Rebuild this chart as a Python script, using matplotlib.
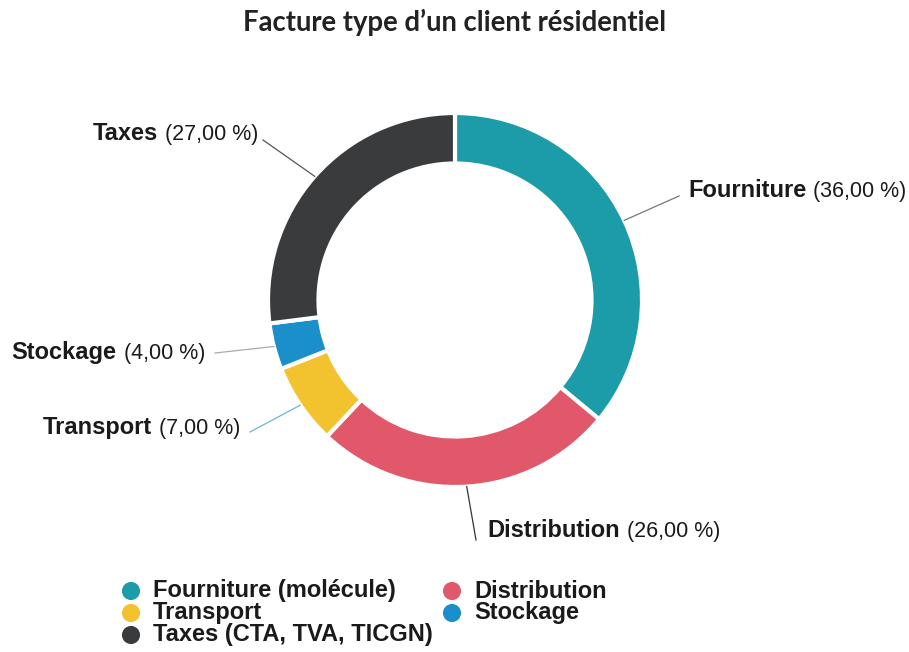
import matplotlib
matplotlib.use('Agg')
import matplotlib.pyplot as plt
import numpy as np

# Facture type d'un client résidentiel - parts of the bill
categories = ['Fourniture', 'Distribution', 'Transport', 'Stockage', 'Taxes']
shares = [36.0, 26.0, 7.0, 4.0, 27.0]
legend_labels = ['Fourniture (molécule)', 'Distribution', 'Transport',
                 'Stockage', 'Taxes (CTA, TVA, TICGN)']
colors = ['#1C9BA8', '#E2586B', '#F3C22F', '#1A8FC9', '#3A3B3D']
line_colors = ['#777777', '#333333', '#6CB6D6', '#AAAAAA', '#555555']

W, H = 909, 652
fig = plt.figure(figsize=(W / 100, H / 100), dpi=100)
ax = fig.add_axes([0, 0, 1, 1])

cx, cy, R = 455, H - 300, 187
ring = 0.27

wedges, _ = ax.pie(shares, colors=colors, startangle=90, counterclock=False,
                   radius=R, center=(cx, cy), frame=True,
                   wedgeprops=dict(width=R * ring, edgecolor='white', linewidth=3))
ax.set_xlim(0, W)
ax.set_ylim(0, H)
ax.axis('off')

ax.text(cx, H - 31, 'Facture type d\u2019un client résidentiel', ha='center',
        va='baseline', fontsize=19.8, fontweight='bold', family='Lato',
        color='#222222')

font = 'Liberation Sans'
fs = 17

# label anchors: (x, baseline y, alignment), connector end point
label_pos = {
    'Fourniture': ((688, H - 197, 'left'), (679, H - 196)),
    'Distribution': ((487, H - 537, 'left'), (476, H - 540)),
    'Transport': ((240, H - 434, 'right'), (250, H - 432)),
    'Stockage': ((205, H - 359, 'right'), (215, H - 353)),
    'Taxes': ((258, H - 140, 'right'), (263, H - 140)),
}

fig.canvas.draw()
renderer = fig.canvas.get_renderer()

for w, name, val, lc in zip(wedges, categories, shares, line_colors):
    mid = np.deg2rad((w.theta1 + w.theta2) / 2)
    x0, y0 = cx + R * np.cos(mid), cy + R * np.sin(mid)
    (tx, ty, ha), (ex, ey) = label_pos[name]
    ax.plot([x0, ex], [y0, ey], color=lc, lw=0.9)
    pct = '(' + f'{val:.2f}'.replace('.', ',') + ' %)'
    t1 = ax.text(0, ty, name, fontsize=fs, fontweight='bold', family=font,
                 va='baseline', ha='left', color='#1a1a1a')
    t2 = ax.text(0, ty, pct, fontsize=fs - 1.5, family=font, va='baseline',
                 ha='left', color='#1a1a1a')
    w1 = t1.get_window_extent(renderer).width
    w2 = t2.get_window_extent(renderer).width
    gap = 7
    if ha == 'left':
        t1.set_x(tx)
        t2.set_x(tx + w1 + gap)
    else:
        t2.set_x(tx - w2)
        t1.set_x(tx - w2 - gap - w1)

# legend in two columns
legend_order = [0, 2, 4, 1, 3]
col_x = [131, 452]
row_y = [H - 591, H - 613, H - 635]
for k, i in enumerate(legend_order):
    col, row = (0, k) if k < 3 else (1, k - 3)
    ax.scatter(col_x[col], row_y[row], s=170, color=colors[i], edgecolors='none')
    ax.text(col_x[col] + 22, row_y[row], legend_labels[i], fontsize=fs,
            fontweight='bold', family=font, va='center', ha='left',
            color='#1a1a1a')

fig.savefig('out.png', dpi=100)
